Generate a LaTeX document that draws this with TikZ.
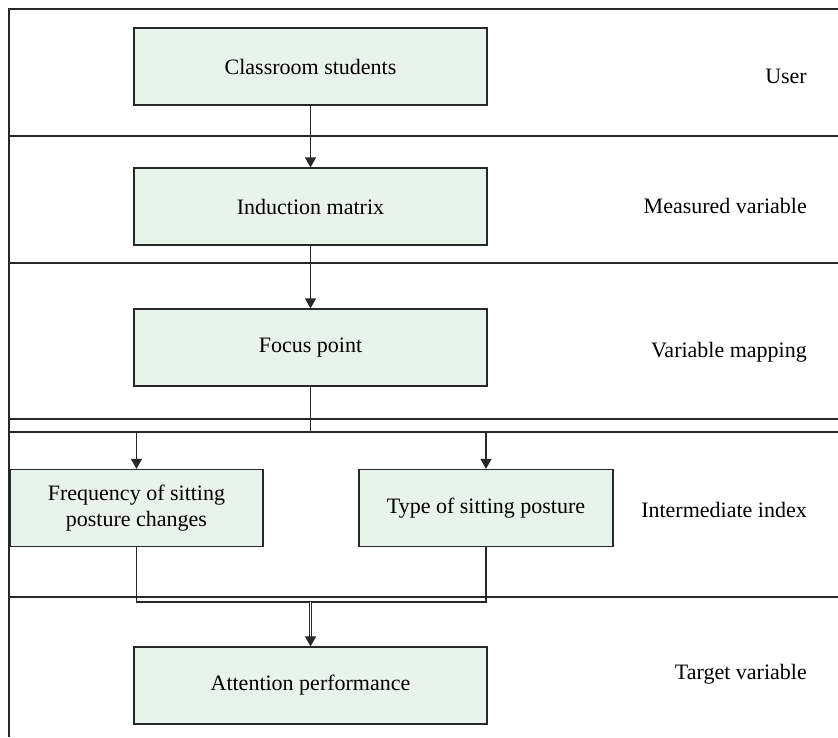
\documentclass[tikz,border=0pt]{standalone}
\usepackage{fontspec}
\setmainfont{Liberation Serif}
\usetikzlibrary{arrows.meta}
\definecolor{boxgreen}{RGB}{232,243,236}
\definecolor{inkgray}{RGB}{40,40,40}
\newcommand{\labsize}{\fontsize{22}{26}\selectfont}
\tikzset{
  stagebox/.style={draw=inkgray, fill=boxgreen, line width=1.2pt,
    minimum width=353pt, minimum height=77pt, inner sep=0pt,
    font=\labsize, align=center},
  lanelabel/.style={anchor=base east, inner sep=0pt, font=\labsize},
  laneline/.style={draw=inkgray, line width=1.3pt},
  flow/.style={draw=inkgray, line width=1.2pt},
  flowarrow/.style={flow, -{Triangle[width=11pt,length=10pt]}},
  mergearrow/.style={draw=inkgray, line width=0.9pt, double=white,
    double distance=0.7pt, -{Triangle[width=11pt,length=10pt]}}
}
\begin{document}
\begin{tikzpicture}[x=1pt,y=-1pt]
\useasboundingbox (0,0) rectangle (838,737);

% frame and lane separators
\draw[laneline] (838,9) -- (9,9) -- (9,737);
\foreach \yy in {136,263,419,432,597}
  \draw[laneline] (9,\yy) -- (838,\yy);

% stage boxes
\node[stagebox] (cs) at (310.5,66.5) {Classroom students};
\node[stagebox] (im) at (310.5,206.5) {Induction matrix};
\node[stagebox] (fp) at (310.5,347.5) {Focus point};
\node[stagebox, minimum width=253pt] (fq) at (136.5,508) {Frequency of sitting\\posture changes};
\node[stagebox, minimum width=254pt] (tp) at (486,508) {Type of sitting posture};
\node[stagebox] (ap) at (310.5,685.5) {Attention performance};

% lane labels
\node[lanelabel] (lu) at (807,83) {User};
\node[lanelabel] (lm) at (807,213) {Measured variable};
\node[lanelabel] (lv) at (807,357) {Variable mapping};
\node[lanelabel] (li) at (807,517) {Intermediate index};
\node[lanelabel] (lt) at (807,679) {Target variable};

% connectors
\coordinate (split) at (310.5,432);
\coordinate (merge) at (310.5,602);
\draw[flowarrow] (cs.south) -- (im.north);
\draw[flowarrow] (im.south) -- (fp.north);
\draw[flow] (fp.south) -- (split);
\draw[flowarrow] (split) -| (fq.north);
\draw[flowarrow] (split) -| (tp.north);
\draw[flow] (fq.south) |- (merge);
\draw[flow] (tp.south) |- (merge);
\draw[mergearrow] (merge) -- (ap.north);
\end{tikzpicture}
\end{document}
